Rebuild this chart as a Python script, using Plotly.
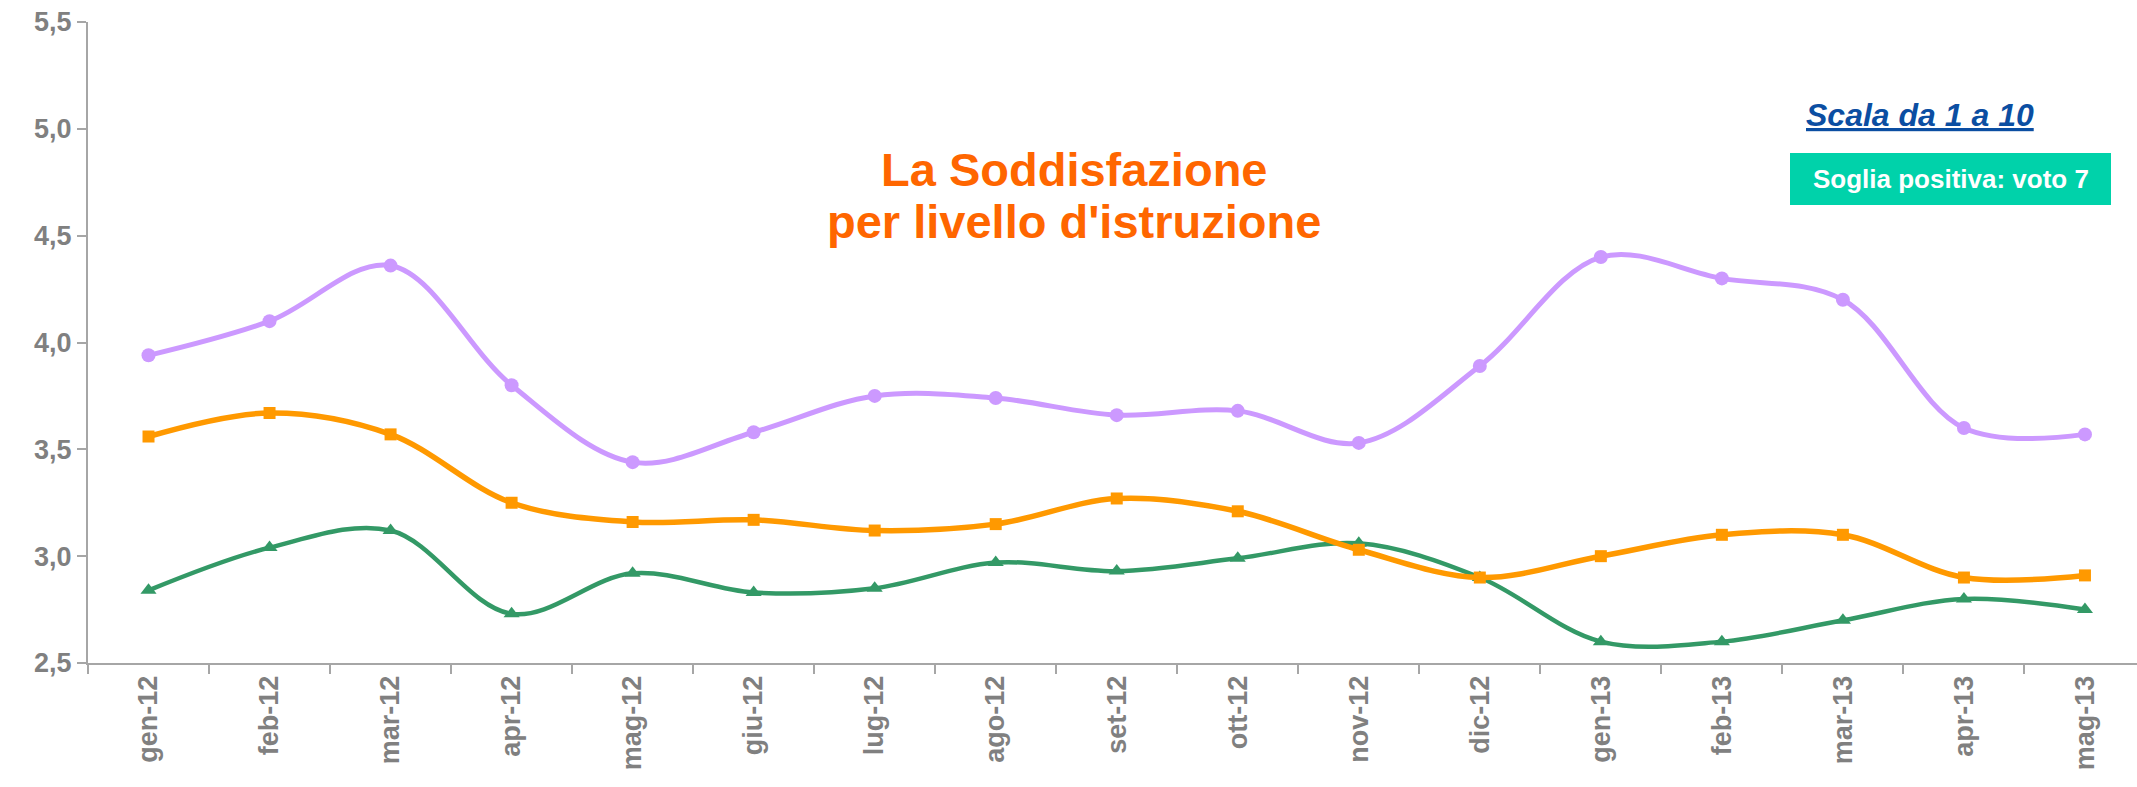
import plotly.graph_objects as go

months = ["gen-12", "feb-12", "mar-12", "apr-12", "mag-12", "giu-12", "lug-12", "ago-12",
          "set-12", "ott-12", "nov-12", "dic-12", "gen-13", "feb-13", "mar-13", "apr-13", "mag-13"]

serie_viola = [3.94, 4.10, 4.36, 3.80, 3.44, 3.58, 3.75, 3.74, 3.66, 3.68, 3.53, 3.89,
               4.40, 4.30, 4.20, 3.60, 3.57]
serie_arancio = [3.56, 3.67, 3.57, 3.25, 3.16, 3.17, 3.12, 3.15, 3.27, 3.21, 3.03, 2.90,
                 3.00, 3.10, 3.10, 2.90, 2.91]
serie_verde = [2.84, 3.04, 3.12, 2.73, 2.92, 2.83, 2.85, 2.97, 2.93, 2.99, 3.06, 2.90,
               2.60, 2.60, 2.70, 2.80, 2.75]

y_ticks = [2.5, 3.0, 3.5, 4.0, 4.5, 5.0, 5.5]

W, H = 2137, 787
L, R, T, B = 88, 0, 22, 124
pw, ph = W - L - R, H - T - B

def px(x):
    return (x - L) / pw

def py(y):
    return (H - B - y) / ph

fig = go.Figure()

fig.add_trace(go.Scatter(
    x=months, y=serie_verde, mode="lines+markers",
    line=dict(color="#339966", width=4.5, shape="spline", smoothing=1.0),
    marker=dict(symbol="triangle-up", size=14, color="#339966"),
    showlegend=False))
fig.add_trace(go.Scatter(
    x=months, y=serie_arancio, mode="lines+markers",
    line=dict(color="#FF9900", width=5.5, shape="spline", smoothing=1.0),
    marker=dict(symbol="square", size=12, color="#FF9900"),
    showlegend=False))
fig.add_trace(go.Scatter(
    x=months, y=serie_viola, mode="lines+markers",
    line=dict(color="#CC99FF", width=5, shape="spline", smoothing=1.0),
    marker=dict(symbol="circle", size=14, color="#CC99FF"),
    showlegend=False))

axis_color = "#A6A6A6"
tick_font = dict(family="Liberation Sans, Arial, sans-serif", size=27, color="#808080")

fig.update_layout(
    width=W, height=H,
    margin=dict(l=L, r=R, t=T, b=B, pad=0),
    paper_bgcolor="white", plot_bgcolor="white",
    xaxis=dict(
        type="category", range=[-0.5, 16.43], automargin=False,
        showgrid=False, zeroline=False,
        showline=True, linecolor=axis_color, linewidth=2,
        ticks="outside", ticklen=9, tickcolor=axis_color, tickwidth=2,
        tickson="boundaries", tickangle=-90,
        tickfont=tick_font,
        ticktext=[f"<b>{m}</b>" for m in months], tickvals=months,
    ),
    yaxis=dict(
        range=[2.5, 5.5], tickvals=y_ticks, automargin=False,
        ticktext=[f"<b>{v:.1f}</b>".replace(".", ",") for v in y_ticks],
        showgrid=False, zeroline=False,
        showline=True, linecolor=axis_color, linewidth=2,
        ticks="outside", ticklen=9, tickcolor=axis_color, tickwidth=2,
        tickfont=tick_font,
    ),
)

title_font = dict(family="Liberation Sans, Arial", size=47, color="#FF6600")
fig.add_annotation(x=px(1074), y=py(169), xref="paper", yref="paper",
                   text="<b>La Soddisfazione</b>", showarrow=False,
                   xanchor="center", yanchor="middle", font=title_font)
fig.add_annotation(x=px(1074), y=py(222), xref="paper", yref="paper",
                   text="<b>per livello d'istruzione</b>", showarrow=False,
                   xanchor="center", yanchor="middle", font=title_font)

fig.add_annotation(x=px(1920), y=py(115), xref="paper", yref="paper",
                   text="<b><i><u>Scala da 1 a 10</u></i></b>", showarrow=False,
                   xanchor="center", yanchor="middle",
                   font=dict(family="Liberation Sans, Arial", size=32, color="#0B4EA2"))

fig.add_shape(type="rect", xref="paper", yref="paper",
              x0=px(1790), x1=px(2111), y0=py(205), y1=py(153),
              fillcolor="#00D2AA", line=dict(width=0), layer="above")
fig.add_annotation(x=px(1951), y=py(179), xref="paper", yref="paper",
                   text="<b>Soglia positiva: voto 7</b>", showarrow=False,
                   xanchor="center", yanchor="middle",
                   font=dict(family="Liberation Sans, Arial", size=26, color="white"))

fig.write_html("out.html", config={"displayModeBar": False},
               post_script="document.body.style.margin='0';")
